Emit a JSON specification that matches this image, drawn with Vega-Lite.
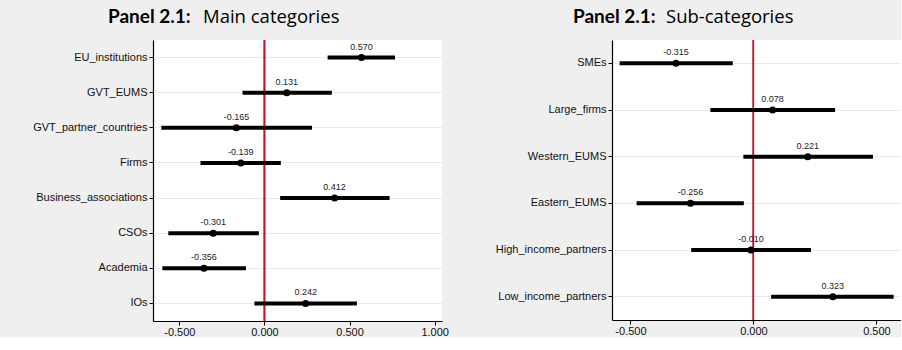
{
  "$schema": "https://vega.github.io/schema/vega-lite/v6.json",
  "background": "#efefef",
  "padding": {"left": 32, "top": 7, "right": 0, "bottom": 0},
  "spacing": 46,
  "config": {
    "font": "Liberation Sans",
    "locale": {"number": {"decimal": ".", "thousands": ",", "grouping": [3], "currency": ["$", ""], "minus": "-"}},
    "view": {"fill": "white", "stroke": null},
    "axis": {
      "labelFont": "Liberation Sans",
      "labelFontSize": 11,
      "labelColor": "#111111",
      "domainColor": "#000000",
      "tickColor": "#000000",
      "domainWidth": 1.2,
      "tickWidth": 1,
      "tickSize": 4,
      "labelPadding": 2
    },
    "axisBottom": {"labelPadding": 1}
  },
  "hconcat": [
    {
      "width": 289,
      "height": 281,
      "data": {"values": [
        {"cat": "EU_institutions", "est": 0.570, "lo": 0.371, "hi": 0.767},
        {"cat": "GVT_EUMS", "est": 0.131, "lo": -0.129, "hi": 0.396},
        {"cat": "GVT_partner_countries", "est": -0.165, "lo": -0.606, "hi": 0.279},
        {"cat": "Firms", "est": -0.139, "lo": -0.376, "hi": 0.096},
        {"cat": "Business_associations", "est": 0.412, "lo": 0.092, "hi": 0.735},
        {"cat": "CSOs", "est": -0.301, "lo": -0.565, "hi": -0.033},
        {"cat": "Academia", "est": -0.356, "lo": -0.600, "hi": -0.109},
        {"cat": "IOs", "est": 0.242, "lo": -0.059, "hi": 0.543}
      ]},
      "resolve": {"axis": {"x": "independent"}},
      "layer": [
        {
          "mark": {"type": "rule", "color": "#c8102e", "strokeWidth": 1.2},
          "encoding": {
            "x": {"datum": 0, "type": "quantitative", "scale": {"domain": [-0.655, 1.043], "nice": false, "zero": false},
                  "axis": {"orient": "bottom", "values": [-0.5, 0, 0.5, 1.0], "format": ".3f", "grid": false, "title": null}}
          }
        },
        {
          "mark": {"type": "rule", "color": "#000000", "strokeWidth": 4},
          "encoding": {
            "y": {"field": "cat", "type": "nominal", "sort": null, "title": "Panel 2.1:",
                  "axis": {"grid": true, "gridColor": "#e2ecee", "gridWidth": 1,
                           "titleFont": "Lato", "titleFontSize": 19, "titleFontWeight": "bold", "titleColor": "#000000",
                           "titleAngle": 0, "titleAlign": "left", "titleBaseline": "alphabetic", "titleAnchor": "start",
                           "titleX": -45.5, "titleY": -18}},
            "x": {"field": "lo", "type": "quantitative", "axis": null},
            "x2": {"field": "hi"}
          }
        },
        {
          "mark": {"type": "point", "filled": true, "color": "#000000", "size": 50, "opacity": 1},
          "encoding": {
            "y": {"field": "cat", "type": "nominal", "sort": null},
            "x": {"field": "est", "type": "quantitative",
                  "axis": {"orient": "top", "labels": false, "ticks": false, "domain": false, "grid": false,
                           "title": "Main categories", "titleFont": "Open Sans", "titleFontSize": 18.5, "titleFontWeight": "normal",
                           "titleColor": "#000000", "titleAnchor": "start", "titleAngle": 0, "titleAlign": "left", "titleBaseline": "alphabetic",
                           "titleX": 49.5, "titleY": -18}}
          }
        },
        {
          "mark": {"type": "text", "fontSize": 9, "dy": -11, "color": "#222222", "font": "Liberation Sans"},
          "encoding": {
            "y": {"field": "cat", "type": "nominal", "sort": null},
            "x": {"field": "est", "type": "quantitative", "axis": null},
            "text": {"field": "est", "type": "quantitative", "format": ".3f"}
          }
        }
      ]
    },
    {
      "width": 289,
      "height": 280,
      "data": {"values": [
        {"cat": "SMEs", "est": -0.315, "lo": -0.544, "hi": -0.084},
        {"cat": "Large_firms", "est": 0.078, "lo": -0.175, "hi": 0.332},
        {"cat": "Western_EUMS", "est": 0.221, "lo": -0.041, "hi": 0.486},
        {"cat": "Eastern_EUMS", "est": -0.256, "lo": -0.475, "hi": -0.039},
        {"cat": "High_income_partners", "est": -0.010, "lo": -0.253, "hi": 0.234},
        {"cat": "Low_income_partners", "est": 0.323, "lo": 0.072, "hi": 0.570}
      ]},
      "resolve": {"axis": {"x": "independent"}},
      "layer": [
        {
          "mark": {"type": "rule", "color": "#c8102e", "strokeWidth": 1.2},
          "encoding": {
            "x": {"datum": 0, "type": "quantitative", "scale": {"domain": [-0.575, 0.6], "nice": false, "zero": false},
                  "axis": {"orient": "bottom", "values": [-0.5, 0, 0.5], "format": ".3f", "grid": false, "title": null}}
          }
        },
        {
          "mark": {"type": "rule", "color": "#000000", "strokeWidth": 4},
          "encoding": {
            "y": {"field": "cat", "type": "nominal", "sort": null, "title": "Panel 2.1:",
                  "axis": {"grid": true, "gridColor": "#e2ecee", "gridWidth": 1,
                           "titleFont": "Lato", "titleFontSize": 19, "titleFontWeight": "bold", "titleColor": "#000000",
                           "titleAngle": 0, "titleAlign": "left", "titleBaseline": "alphabetic", "titleAnchor": "start",
                           "titleX": -39.5, "titleY": -18}},
            "x": {"field": "lo", "type": "quantitative", "axis": null},
            "x2": {"field": "hi"}
          }
        },
        {
          "mark": {"type": "point", "filled": true, "color": "#000000", "size": 50, "opacity": 1},
          "encoding": {
            "y": {"field": "cat", "type": "nominal", "sort": null},
            "x": {"field": "est", "type": "quantitative",
                  "axis": {"orient": "top", "labels": false, "ticks": false, "domain": false, "grid": false,
                           "title": "Sub-categories", "titleFont": "Open Sans", "titleFontSize": 18.5, "titleFontWeight": "normal",
                           "titleColor": "#000000", "titleAnchor": "start", "titleAngle": 0, "titleAlign": "left", "titleBaseline": "alphabetic",
                           "titleX": 53.5, "titleY": -18}}
          }
        },
        {
          "mark": {"type": "text", "fontSize": 9, "dy": -11, "color": "#222222", "font": "Liberation Sans"},
          "encoding": {
            "y": {"field": "cat", "type": "nominal", "sort": null},
            "x": {"field": "est", "type": "quantitative", "axis": null},
            "text": {"field": "est", "type": "quantitative", "format": ".3f"}
          }
        }
      ]
    }
  ]
}
